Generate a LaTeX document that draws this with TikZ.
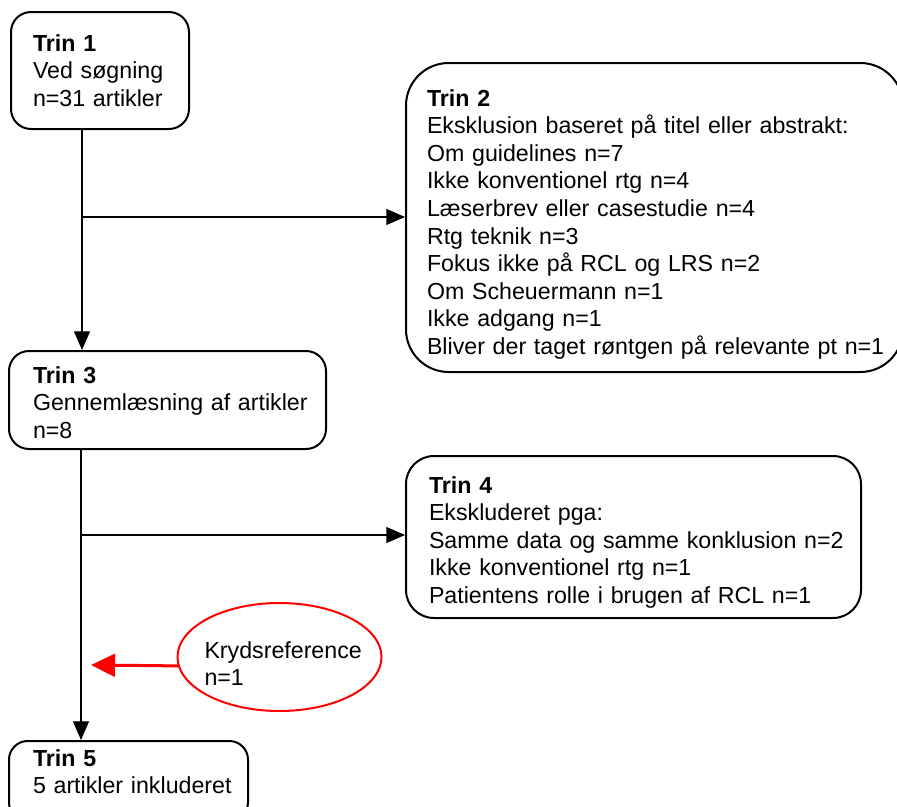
\documentclass[tikz,border=0pt]{standalone}
\usepackage{fontspec}
\setmainfont{Liberation Sans}
\usetikzlibrary{arrows.meta,shapes.geometric}
\newcommand\oneline[1]{\mbox{#1}}
\begin{document}
\begin{tikzpicture}[x=0.75pt,y=-0.75pt,
  every node/.style={font=\fontsize{17.4pt}{20.7pt}\selectfont},
  box/.style={draw=black, line width=1.5pt, anchor=north west, align=left, inner ysep=0pt},
  conn/.style={draw=black, line width=0.8pt, -{Triangle[length=14pt,width=12pt]}},
  redconn/.style={draw=red, line width=2.25pt, -{Triangle[length=18pt,width=17pt]}},
  kryds/.style={ellipse, draw=red, line width=1.5pt, align=left, minimum width=153pt, minimum height=81pt, inner xsep=-5pt, inner ysep=0pt, text width=112.5pt, text height=22.5pt, text depth=21pt}
]
\useasboundingbox (0,0) rectangle (897,807);

\node[box, rounded corners=15pt, inner xsep=16.5pt, text width=100.5pt, text height=29.25pt, text depth=58.5pt] (t1) at (10,11)
  {\oneline{\textbf{Trin 1}}\\\oneline{Ved søgning}\\\oneline{n=31 artikler}};

\node[box, rounded corners=32pt, inner xsep=15.75pt, text width=341.25pt, text height=32.25pt, text depth=199.5pt] (t2) at (405,62)
  {\oneline{\textbf{Trin 2}}\\\oneline{Eksklusion baseret på titel eller abstrakt:}\\\oneline{Om guidelines n=7}\\\oneline{Ikke konventionel rtg n=4}\\\oneline{Læserbrev eller casestudie n=4}\\\oneline{Rtg teknik n=3}\\\oneline{Fokus ikke på RCL og LRS n=2}\\\oneline{Om Scheuermann n=1}\\\oneline{Ikke adgang n=1}\\\oneline{Bliver der taget røntgen på relevante pt n=1}};

\node[box, rounded corners=15pt, inner xsep=18pt, text width=201.75pt, text height=24pt, text depth=49.5pt] (t3) at (8,350)
  {\oneline{\textbf{Trin 3}}\\\oneline{Gennemlæsning af artikler}\\\oneline{n=8}};

\node[box, rounded corners=21pt, inner xsep=17.25pt, text width=306.75pt, text height=27.75pt, text depth=93.75pt] (t4) at (405,455)
  {\oneline{\textbf{Trin 4}}\\\oneline{Ekskluderet pga:}\\\oneline{Samme data og samme konklusion n=2}\\\oneline{Ikke konventionel rtg n=1}\\\oneline{Patientens rolle i brugen af RCL n=1}};

\node[box, rounded corners=14pt, inner xsep=18pt, text width=143.25pt, text height=18.75pt, text depth=41.25pt] (t5) at (8,740)
  {\oneline{\textbf{Trin 5}}\\\oneline{5 artikler inkluderet}};

\node[kryds] (kr) at (279.5,657) {\oneline{Krydsreference}\\\oneline{n=1}};

\coordinate (j1) at (82,217);
\coordinate (j2) at (81,535);
\coordinate (rt) at (91,665);

\draw[conn] (t1.south -| j1) -- (t3.north -| j1);
\draw[conn] (j1) -- (j1 -| t2.west);
\draw[conn] (t3.south -| j2) -- (t5.north -| j2);
\draw[conn] (j2) -- (j2 -| t4.west);
\draw[redconn] (kr.185) -- (rt);
\end{tikzpicture}
\end{document}
